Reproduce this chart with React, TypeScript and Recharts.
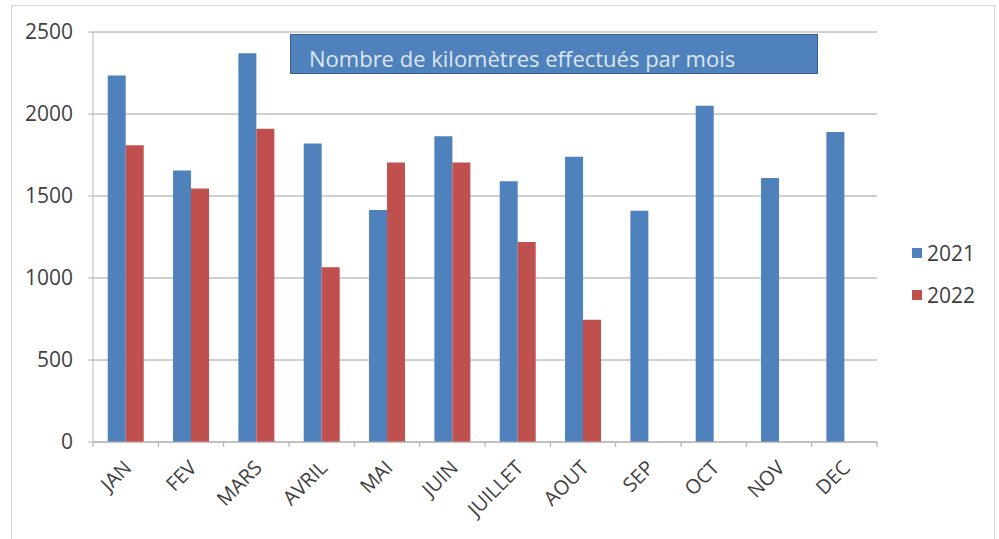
import React from "react";
import { BarChart, Bar, XAxis, YAxis, CartesianGrid, Legend } from "recharts";

const months = ["JAN", "FEV", "MARS", "AVRIL", "MAI", "JUIN", "JUILLET", "AOUT", "SEP", "OCT", "NOV", "DEC"];
const km2021 = [2235, 1655, 2370, 1820, 1415, 1865, 1590, 1740, 1410, 2050, 1610, 1890];
const km2022 = [1810, 1545, 1910, 1065, 1705, 1705, 1220, 745, null, null, null, null];
const yTicks = [0, 500, 1000, 1500, 2000, 2500];
const seriesNames = ["2021", "2022"];
const title = "Nombre de kilomètres effectués par mois";

const COLORS = ["#4f81bd", "#c0504d"];
const PLOT_LEFT = 93;
const PLOT_RIGHT = 877;
const BAND = (PLOT_RIGHT - PLOT_LEFT) / months.length;

const data = months.map((m, i) => ({ month: m, y2021: km2021[i], y2022: km2022[i] }));

const MonthTick = (props: any) => {
  const { x, y, payload, index } = props;
  const tx = x + 7;
  const ty = y + 27;
  return (
    <g>
      <line x1={x - BAND / 2} y1={y} x2={x - BAND / 2} y2={y + 5} stroke="#a6a6a6" />
      {index === months.length - 1 && (
        <line x1={x + BAND / 2} y1={y} x2={x + BAND / 2} y2={y + 5} stroke="#a6a6a6" />
      )}
      <text
        x={tx}
        y={ty}
        transform={`rotate(-45, ${tx}, ${ty})`}
        textAnchor="end"
        fill="#3f3f3f"
        fontSize={20}
      >
        {payload.value}
      </text>
    </g>
  );
};

const LegendBox = () => (
  <div style={{ fontSize: 21, color: "#3f3f3f" }}>
    {seriesNames.map((name, i) => (
      <div key={name} style={{ display: "flex", alignItems: "center", height: 42 }}>
        <span style={{ width: 10, height: 10, background: COLORS[i], marginRight: 5 }} />
        <span>{name}</span>
      </div>
    ))}
  </div>
);

export default function App() {
  return (
    <div
      style={{
        position: "absolute",
        left: 0,
        top: 0,
        width: 999,
        height: 539,
        background: "#fff",
        fontFamily: "'Open Sans', sans-serif",
      }}
    >
      <div
        style={{
          position: "absolute",
          left: 11,
          top: 5,
          width: 982,
          height: 540,
          border: "1px solid #d4d4d4",
        }}
      />
      <BarChart
        width={999}
        height={539}
        data={data}
        margin={{ top: 32, right: 999 - PLOT_RIGHT, left: 0, bottom: 0 }}
        barGap={0}
        barCategoryGap="22.5%"
      >
        <CartesianGrid vertical={false} stroke="#a0a0a0" />
        <XAxis
          dataKey="month"
          height={97}
          interval={0}
          tickSize={0}
          tickMargin={0}
          tickLine={false}
          axisLine={{ stroke: "#b4b4b4" }}
          tick={<MonthTick />}
        />
        <YAxis
          width={PLOT_LEFT}
          domain={[0, 2500]}
          ticks={yTicks}
          tickSize={5}
          tickMargin={15}
          axisLine={{ stroke: "#b4b4b4" }}
          tickLine={{ stroke: "#b4b4b4" }}
          tick={{ fill: "#3f3f3f", fontSize: 21 }}
        />
        <Legend
          layout="vertical"
          align="center"
          verticalAlign="middle"
          wrapperStyle={{ left: 912, top: 232, width: 80 }}
          content={() => <LegendBox />}
        />
        <Bar dataKey="y2021" name={seriesNames[0]} fill={COLORS[0]} isAnimationActive={false} />
        <Bar dataKey="y2022" name={seriesNames[1]} fill={COLORS[1]} isAnimationActive={false} />
      </BarChart>
      <div
        style={{
          position: "absolute",
          left: 290,
          top: 34,
          width: 508,
          height: 38,
          background: "#4f81bd",
          border: "1px solid #385d8a",
          color: "#dce6f2",
          fontSize: 22,
          lineHeight: "46px",
          paddingLeft: 18,
          whiteSpace: "nowrap",
          boxSizing: "content-box",
        }}
      >
        {title}
      </div>
    </div>
  );
}
